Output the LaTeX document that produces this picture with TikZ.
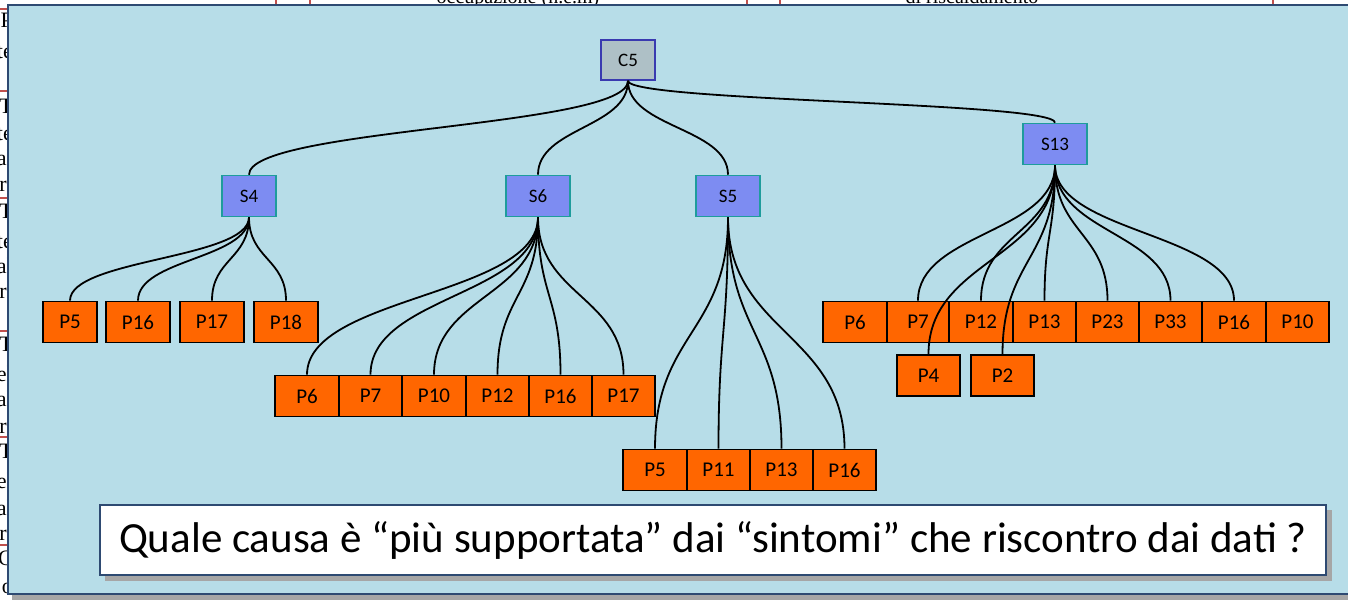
\documentclass[tikz,border=0pt]{standalone}
\usepackage{fontspec}
\setmainfont{Liberation Serif}
\newfontfamily\carlito{Carlito}
\usetikzlibrary{calc}
\definecolor{bgblue}{HTML}{B7DDE8}
\definecolor{navy}{HTML}{2E4A72}
\definecolor{porange}{HTML}{FF6600}
\definecolor{sblue}{HTML}{7D8CF2}
\definecolor{steal}{HTML}{1E9C9C}
\definecolor{cgray}{HTML}{AEC0C6}
\definecolor{cborder}{HTML}{3A3AB0}
\definecolor{tred}{HTML}{C0504D}
\tikzset{
  pbox/.style={draw=black, line width=1.8pt, fill=porange, minimum height=41pt, inner sep=0pt, font=\carlito\fontsize{21}{21}\selectfont},
  sbox/.style={draw=steal, line width=1.6pt, fill=sblue, minimum height=41pt, inner sep=0pt, font=\carlito\fontsize{19}{19}\selectfont},
  cbox/.style={draw=cborder, line width=1.6pt, fill=cgray, minimum height=40pt, minimum width=54pt, inner sep=0pt, font=\carlito\fontsize{19}{19}\selectfont},
  conn/.style={draw=black, line width=1.8pt},
  curvy/.style={to path={let \p1=(\tikztostart), \p2=(\tikztotarget) in .. controls (\x1,{0.5*(\y1+\y2)}) and (\x2,{0.5*(\y1+\y2)}) .. (\tikztotarget)}},
  frag/.style={font=\fontsize{22}{22}\selectfont, anchor=base east, inner sep=0pt},
  tline/.style={draw=tred, line width=2pt}
}
\begin{document}
\begin{tikzpicture}[x=1pt,y=-1pt]
\useasboundingbox (0,0) rectangle (1348,600);
\clip (0,0) rectangle (1348,600);
\fill[white] (0,0) rectangle (1348,600);
% background table fragments
\node[font=\fontsize{20}{20}\selectfont, anchor=base, inner sep=0pt] (t1) at (518,3) {occupazione (n.e.m)};
\node[font=\fontsize{20}{20}\selectfont, anchor=base, inner sep=0pt] (t2) at (972,3) {di riscaldamento};
\foreach \x in {276,310,747,780,1273} \draw[tline] (\x,0) -- (\x,6);
\foreach \y in {9,91,198,331,437,545} \draw[tline] (0,\y) -- (8,\y);
\foreach \y/\t in {27/P,58/te,113/T,140/te,165/al,191/ri,218/T,248/te,273/al,298/ri,351/T,381/el,406/al,433/ri,458/T,488/el,515/al,540/ri,565/C,593/o}
  \node[frag] at (13,\y) {\t};
% frame
\fill[gray!70] (12,593) rectangle (1352,600);
\draw[navy, line width=1.5pt, fill=bgblue] (8,5) rectangle (1356,594);
% C node
\node[cbox] (C5) at (628,60) {C5};
% S nodes
\node[sbox, minimum width=54pt] (S4) at (249,196) {S4};
\node[sbox, minimum width=64pt] (S6) at (538,196) {S6};
\node[sbox, minimum width=64pt] (S5) at (728,196) {S5};
\node[sbox, minimum width=64pt] (S13) at (1055,144) {S13};
% S4 children
\node[pbox, minimum width=54pt] (a5) at (70,322) {P5};
\node[pbox, minimum width=64pt] (a16) at (138,322) {P16};
\node[pbox, minimum width=64pt] (a17) at (212,322) {P17};
\node[pbox, minimum width=64pt] (a18) at (286,322) {P18};
% S6 children
\node[pbox, minimum width=63.5pt] (b6) at (307,396) {P6};
\node[pbox, minimum width=63pt] (b7) at (370.5,396) {P7};
\node[pbox, minimum width=63.5pt] (b10) at (434,396) {P10};
\node[pbox, minimum width=63pt] (b12) at (497.5,396) {P12};
\node[pbox, minimum width=63pt] (b16) at (560.5,396) {P16};
\node[pbox, minimum width=63pt] (b17) at (623.5,396) {P17};
% S5 children
\node[pbox, minimum width=63.5pt] (c5) at (655,470) {P5};
\node[pbox, minimum width=63pt] (c11) at (718.5,470) {P11};
\node[pbox, minimum width=63pt] (c13) at (781.5,470) {P13};
\node[pbox, minimum width=63.5pt] (c16) at (844.5,470) {P16};
% S13 children
\node[pbox, minimum width=64pt] (d6) at (855,322) {P6};
\node[pbox, minimum width=62pt] (d7) at (918,322) {P7};
\node[pbox, minimum width=64pt] (d12) at (981,322) {P12};
\node[pbox, minimum width=63pt] (d13) at (1044.5,322) {P13};
\node[pbox, minimum width=63pt] (d23) at (1107.5,322) {P23};
\node[pbox, minimum width=63pt] (d33) at (1170.5,322) {P33};
\node[pbox, minimum width=64pt] (d16) at (1234,322) {P16};
\node[pbox, minimum width=63pt] (d10) at (1297.5,322) {P10};
\node[pbox, minimum width=63pt] (d4) at (928.5,375.5) {P4};
\node[pbox, minimum width=63pt] (d2) at (1002.5,375.5) {P2};
% connectors
\draw[conn] (C5.south) to[curvy] (S4.north);
\draw[conn] (C5.south) to[curvy] (S6.north);
\draw[conn] (C5.south) to[curvy] (S5.north);
\draw[conn] (C5.south) to[curvy] (S13.north);
\foreach \k in {a5,a16,a17,a18} \draw[conn] (S4.south) to[curvy] (\k.north);
\foreach \k in {b6,b7,b10,b12,b16,b17} \draw[conn] (S6.south) to[curvy] (\k.north);
\foreach \k in {c5,c11,c13,c16} \draw[conn] (S5.south) to[curvy] (\k.north);
\foreach \k in {d7,d12,d13,d23,d33,d16,d4,d2} \draw[conn] (S13.south) to[curvy] (\k.north);
% question box
\fill[gray!70] (105,575) rectangle (1332,581);
\fill[gray!70] (1326,510) rectangle (1332,581);
\node[draw=navy, line width=1.5pt, fill=white, minimum width=1226pt, minimum height=70pt, inner sep=0pt, font=\carlito\fontsize{43}{43}\selectfont] (Q) at (713,540) {Quale causa è “più supportata” dai “sintomi” che riscontro dai dati ?};
\end{tikzpicture}
\end{document}
